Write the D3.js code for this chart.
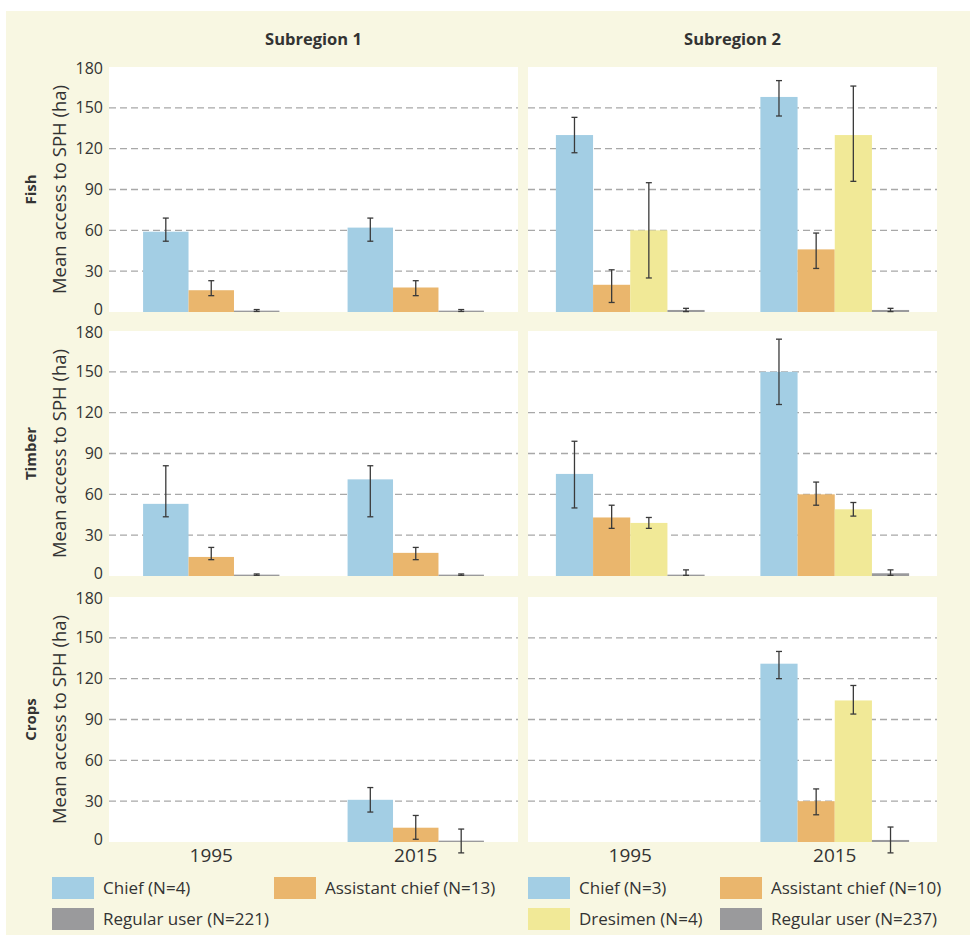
<!DOCTYPE html>
<html>
<head>
<meta charset="utf-8">
<script src="https://cdn.jsdelivr.net/npm/d3@7"></script>
<style>
  body { margin: 0; background: #fff; }
  text { font-family: "Open Sans", "Noto Sans", sans-serif; fill: #333; }
</style>
</head>
<body>
<div id="chart"></div>
<script>
// categories
var subregions = ["Subregion 1", "Subregion 2"];
var resources = ["Fish", "Timber", "Crops"];
var years = ["1995", "2015"];
var roles1 = ["Chief", "Assistant chief", "Regular user"];
var roles2 = ["Chief", "Assistant chief", "Dresimen", "Regular user"];
var legend1 = ["Chief (N=4)", "Assistant chief (N=13)", "Regular user (N=221)"];
var legend2 = ["Chief (N=3)", "Assistant chief (N=10)", "Dresimen (N=4)", "Regular user (N=237)"];
var yTicks = [0, 30, 60, 90, 120, 150, 180];

// values: rows = 1995, 2015; columns = roles. null = no bar
var fishS1Mean = [[59, 16, 1], [62, 18, 1]];
var fishS1Low  = [[52, 12, 0.4], [52, 12, 0.4]];
var fishS1High = [[69, 23, 1.8], [69, 23, 1.8]];

var fishS2Mean = [[130, 20, 60, 1.5], [158, 46, 130, 1.5]];
var fishS2Low  = [[117, 7, 25, 0.3], [144, 32, 96, 0.3]];
var fishS2High = [[143, 31, 95, 2.7], [170, 58, 166, 2.7]];

var timberS1Mean = [[53, 14, 1], [71, 17, 1]];
var timberS1Low  = [[43.5, 12, 0.5], [43.5, 12, 0.5]];
var timberS1High = [[81, 21, 1.5], [81, 21, 1.5]];

var timberS2Mean = [[75, 43, 39, 1], [150, 60, 49, 2]];
var timberS2Low  = [[50, 35, 35, 0.5], [126, 52, 44, 0.5]];
var timberS2High = [[99, 52, 43, 4.5], [174, 69, 54, 4.5]];

var cropsS1Mean = [[null, null, null], [31, 10.5, 1]];
var cropsS1Low  = [[null, null, null], [22, 2, -8]];
var cropsS1High = [[null, null, null], [40, 19.5, 9.5]];

var cropsS2Mean = [[null, null, null, null], [131, 30, 104, 1.5]];
var cropsS2Low  = [[null, null, null, null], [120, 20, 94, -8]];
var cropsS2High = [[null, null, null, null], [140, 39, 115, 11]];

var panels = [
  [[fishS1Mean, fishS1Low, fishS1High], [fishS2Mean, fishS2Low, fishS2High]],
  [[timberS1Mean, timberS1Low, timberS1High], [timberS2Mean, timberS2Low, timberS2High]],
  [[cropsS1Mean, cropsS1Low, cropsS1High], [cropsS2Mean, cropsS2Low, cropsS2High]]
];

var roleColor = d3.scaleOrdinal()
  .domain(["Chief", "Assistant chief", "Dresimen", "Regular user"])
  .range(["#a3cee4", "#eab66d", "#f1e997", "#9a9a9c"]);

var width = 974, height = 937;
var colX = [109, 528], colW = 409;
var rowY = [67, 331, 597], rowH = 245;

var svg = d3.select("#chart").append("svg")
  .attr("width", width)
  .attr("height", height);

// cream background
svg.append("rect")
  .attr("x", 6).attr("y", 11)
  .attr("width", 964).attr("height", 924)
  .attr("fill", "#f8f7e2");

var y = d3.scaleLinear().domain([0, 180]).range([rowH, 0]);

// column titles
subregions.forEach(function (s, c) {
  svg.append("text")
    .attr("x", colX[c] + colW / 2)
    .attr("y", 45)
    .attr("text-anchor", "middle")
    .style("font-size", "16.5px")
    .style("font-weight", "bold")
    .text(s);
});

resources.forEach(function (res, r) {
  // row labels
  var cy = rowY[r] + rowH / 2;
  svg.append("text")
    .attr("transform", "translate(36," + cy + ") rotate(-90)")
    .attr("text-anchor", "middle")
    .style("font-size", "15px")
    .style("font-weight", "bold")
    .text(res);
  svg.append("text")
    .attr("transform", "translate(66," + cy + ") rotate(-90)")
    .attr("text-anchor", "middle")
    .style("font-size", "18.5px")
    .text("Mean access to SPH (ha)");

  // y tick labels (0 nudged up, 180 nudged down, as in the original)
  svg.append("g")
    .selectAll("text")
    .data(yTicks)
    .enter().append("text")
      .attr("x", colX[0] - 6)
      .attr("y", function (d) {
        var off = d === 0 ? -3 : (d === 180 ? 1 : 0);
        return rowY[r] + y(d) + off;
      })
      .attr("dy", "0.35em")
      .attr("text-anchor", "end")
      .style("font-size", "16px")
      .text(function (d) { return d; });

  subregions.forEach(function (s, c) {
    var roles = c === 0 ? roles1 : roles2;
    var mean = panels[r][c][0], low = panels[r][c][1], high = panels[r][c][2];

    var x0 = d3.scaleBand().domain(years).range([0, colW])
      .paddingInner(1.5 / (roles.length + 1.5))
      .paddingOuter(0.75 / (roles.length + 1.5));
    var x1 = d3.scaleBand().domain(roles).range([0, x0.bandwidth()]);

    var g = svg.append("g")
      .attr("transform", "translate(" + colX[c] + "," + rowY[r] + ")");

    g.append("rect")
      .attr("width", colW).attr("height", rowH)
      .attr("fill", "#fff");

    g.selectAll(".grid")
      .data(yTicks.slice(1, -1))
      .enter().append("line")
        .attr("x1", 0).attr("x2", colW)
        .attr("y1", function (d) { return y(d); })
        .attr("y2", function (d) { return y(d); })
        .attr("stroke", "#a8a8a8")
        .attr("stroke-width", 1.3)
        .attr("stroke-dasharray", "7,4");

    var cells = [];
    years.forEach(function (yr, i) {
      roles.forEach(function (role, j) {
        if (mean[i][j] === null) return;
        cells.push({ year: yr, role: role, v: mean[i][j], lo: low[i][j], hi: high[i][j] });
      });
    });

    g.selectAll(".bar")
      .data(cells)
      .enter().append("rect")
        .attr("x", function (d) { return x0(d.year) + x1(d.role); })
        .attr("y", function (d) { return y(d.v); })
        .attr("width", x1.bandwidth())
        .attr("height", function (d) { return y(0) - y(d.v); })
        .attr("fill", function (d) { return roleColor(d.role); });

    var eb = g.selectAll(".err")
      .data(cells)
      .enter().append("g")
        .attr("transform", function (d) {
          return "translate(" + (x0(d.year) + x1(d.role) + x1.bandwidth() / 2) + ",0)";
        })
        .attr("stroke", "#3a3a3a")
        .attr("stroke-width", 1.3);
    eb.append("line")
      .attr("y1", function (d) { return y(d.lo); })
      .attr("y2", function (d) { return y(d.hi); });
    eb.append("line")
      .attr("x1", -3).attr("x2", 3)
      .attr("y1", function (d) { return y(d.lo); })
      .attr("y2", function (d) { return y(d.lo); });
    eb.append("line")
      .attr("x1", -3).attr("x2", 3)
      .attr("y1", function (d) { return y(d.hi); })
      .attr("y2", function (d) { return y(d.hi); });

    // x labels under bottom row
    if (r === resources.length - 1) {
      g.selectAll(".xl")
        .data(years)
        .enter().append("text")
          .attr("x", function (d) { return x0(d) + x0.bandwidth() / 2; })
          .attr("y", rowH + 20)
          .attr("text-anchor", "middle")
          .style("font-size", "19px")
          .text(function (d) { return d; });
    }
  });
});

// legends
var legendPos1 = [[52, 877], [274, 877], [52, 908]];
var legendPos2 = [[528, 877], [720, 877], [528, 908], [720, 908]];
[[legend1, roles1, legendPos1], [legend2, roles2, legendPos2]].forEach(function (L) {
  var items = L[0].map(function (lab, i) { return { label: lab, role: L[1][i], pos: L[2][i] }; });
  var lg = svg.append("g").selectAll("g")
    .data(items)
    .enter().append("g")
      .attr("transform", function (d) { return "translate(" + d.pos[0] + "," + d.pos[1] + ")"; });
  lg.append("rect")
    .attr("width", 42).attr("height", 22)
    .attr("fill", function (d) { return roleColor(d.role); });
  lg.append("text")
    .attr("x", 51).attr("y", 11)
    .attr("dy", "0.35em")
    .style("font-size", "17px")
    .text(function (d) { return d.label; });
});
</script>
</body>
</html>
